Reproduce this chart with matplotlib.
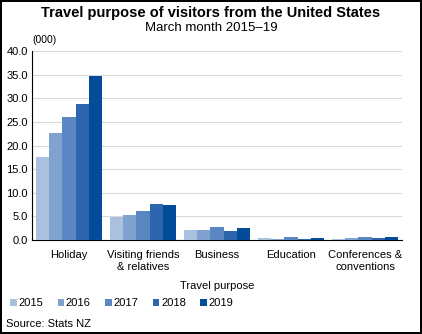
import numpy as np
import matplotlib
matplotlib.use("Agg")
import matplotlib.pyplot as plt
from matplotlib.patches import Patch

plt.rcParams['font.family'] = ['Liberation Sans', 'DejaVu Sans']

# Data (thousands of visitors), March month
categories = ["Holiday", "Visiting friends\n& relatives", "Business", "Education", "Conferences &\nconventions"]
years = ["2015", "2016", "2017", "2018", "2019"]
v2015 = [17.6, 4.9, 2.1, 0.4, 0.2]
v2016 = [22.6, 5.3, 2.1, 0.2, 0.4]
v2017 = [26.0, 6.1, 2.75, 0.6, 0.6]
v2018 = [28.8, 7.6, 2.0, 0.3, 0.4]
v2019 = [34.7, 7.4, 2.55, 0.5, 0.6]
series = [v2015, v2016, v2017, v2018, v2019]
colors = ["#A9C1DF", "#7FA2CF", "#5A87C1", "#2D66AE", "#034C9A"]

fig = plt.figure(figsize=(4.22, 3.34), dpi=100, linewidth=1.5, edgecolor='black')
ax = fig.add_axes([32 / 422, 94 / 334, 370 / 422, 189 / 334])

x = np.arange(len(categories))
w = 0.18
for i, vals in enumerate(series):
    ax.bar(x + (i - 2) * w, vals, width=w, color=colors[i], zorder=3)

ax.set_xlim(-0.5, len(categories) - 0.5)
ax.set_ylim(0, 40)
ax.set_yticks(np.arange(0, 41, 5))
ax.set_yticklabels([f"{t:.1f}" for t in np.arange(0, 41, 5)], fontsize=8)
ax.set_xticks(x)
ax.set_xticklabels(categories, fontsize=8, linespacing=1.25)
ax.tick_params(axis='both', length=0, pad=3)
ax.tick_params(axis='x', pad=7)
ax.grid(axis='y', color='#D9D9D9', linewidth=0.8, zorder=0)
for s in ['top', 'right']:
    ax.spines[s].set_visible(False)
ax.spines['left'].set_linewidth(0.8)
ax.spines['bottom'].set_linewidth(0.8)
ax.set_xlabel("Travel purpose", fontsize=8, labelpad=7)

fig.text(0.5, 1 - 13 / 334, "Travel purpose of visitors from the United States",
         ha='center', va='center', fontsize=10.5, fontweight='bold')
fig.text(0.5, 1 - 28 / 334, "March month 2015\u201319", ha='center', va='center', fontsize=9.5)
fig.text(32 / 422, 1 - 40 / 334, "(000)", ha='left', va='center', fontsize=7.5)

handles = [Patch(facecolor=c) for c in colors]
fig.legend(handles, years, loc='center left', bbox_to_anchor=(0.0, 1 - 303 / 334), ncol=5,
           frameon=False, fontsize=8, handlelength=0.6, handleheight=0.6,
           handletextpad=0.15, columnspacing=1.3)
fig.text(6 / 422, 1 - 324 / 334, "Source: Stats NZ", ha='left', va='center', fontsize=8)

fig.savefig("out.png", dpi=100)
